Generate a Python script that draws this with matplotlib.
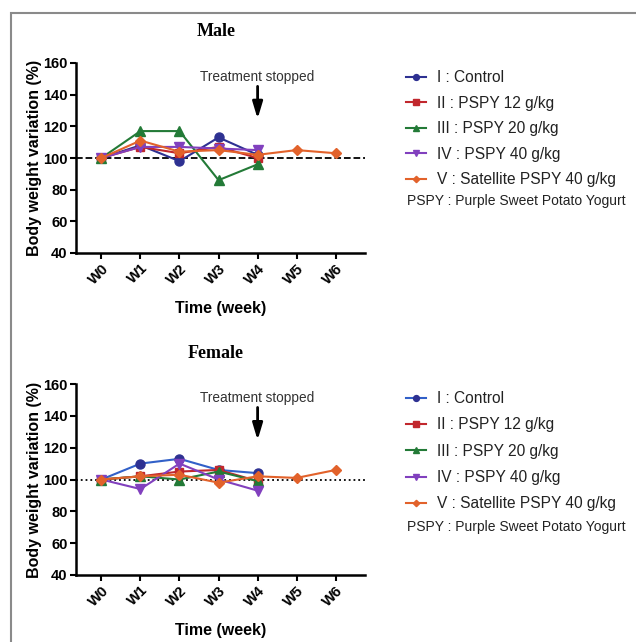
import matplotlib.pyplot as plt
from matplotlib.patches import Rectangle

weeks = ['W0', 'W1', 'W2', 'W3', 'W4', 'W5', 'W6']
groups = ['I : Control', 'II : PSPY 12 g/kg', 'III : PSPY 20 g/kg',
          'IV : PSPY 40 g/kg', 'V : Satellite PSPY 40 g/kg']

male_control = [100, 108, 98, 113, 102]
male_pspy12 = [100, 107, 103, 107, 100]
male_pspy20 = [100, 117, 117, 86, 96]
male_pspy40 = [100, 107, 107, 106, 105]
male_satellite = [100, 111, 104, 105, 102, 105, 103]

female_control = [100, 110, 113, 106, 104]
female_pspy12 = [100, 102, 105, 106, 99]
female_pspy20 = [100, 102, 100, 105, 99]
female_pspy40 = [100, 94, 110, 100, 93]
female_satellite = [100, 102, 103, 98, 102, 101, 106]

colors = ['#2E3192', '#C1272D', '#237A37', '#8140BE', '#E2622B']
female_line_colors = ['#3160C8', '#C1272D', '#237A37', '#8140BE', '#E2622B']
markers = ['o', 's', '^', 'v', 'D']
msizes = [6.5, 6, 6.5, 6.5, 5]

plt.rcParams['font.family'] = ['Liberation Sans', 'DejaVu Sans']

fig = plt.figure(figsize=(6.36, 6.42), dpi=100)

# grey frame around the figure (left and top edges visible)
fig.patches.append(Rectangle((11 / 636, -0.05), 1.1, 1 - 13 / 642 + 0.05,
                             transform=fig.transFigure, fill=False,
                             edgecolor='#8a8a8a', linewidth=1.5))


def draw_panel(ax, series, line_colors, title, title_y, ref_style, legend_y, note_y, spacing):
    for i, vals in enumerate(series):
        ax.plot(range(len(vals)), vals, color=line_colors[i], marker=markers[i],
                markersize=msizes[i], markerfacecolor=colors[i],
                markeredgecolor=colors[i], linewidth=1.5, label=groups[i],
                zorder=3 + i)
    ax.axhline(100, color='black', linestyle=ref_style, linewidth=1.3, zorder=2)
    ax.set_xlim(-0.65, 6.75)
    ax.set_ylim(40, 160)
    ax.set_yticks(range(40, 161, 20))
    ax.set_xticks(range(len(weeks)))
    ax.set_xticklabels(weeks, rotation=45, ha='right', rotation_mode='anchor')
    for lab in ax.get_xticklabels() + ax.get_yticklabels():
        lab.set_fontweight('bold')
        lab.set_fontsize(10.5)
    ax.spines['top'].set_visible(False)
    ax.spines['right'].set_visible(False)
    ax.spines['left'].set_linewidth(1.8)
    ax.spines['bottom'].set_linewidth(1.8)
    ax.tick_params(width=1.5, length=4, pad=2)
    ax.set_xlabel('Time (week)', fontsize=11.5, fontweight='bold', labelpad=10)
    ax.set_ylabel('Body weight variation (%)', fontsize=11.5, fontweight='bold', labelpad=1)
    fig.text(216 / 636, title_y, title, fontsize=13, fontweight='bold',
             family='Liberation Serif', ha='center', va='center')
    ax.annotate('', xy=(4, 123), xytext=(4, 147),
                arrowprops=dict(arrowstyle='-|>,head_width=0.3,head_length=1.0',
                                color='black', linewidth=2))
    ax.text(4, 151, 'Treatment stopped', ha='center', va='center',
            fontsize=9.8, color='#333333')
    handles, labels = ax.get_legend_handles_labels()
    leg = fig.legend(handles, labels, loc='upper left',
                     bbox_to_anchor=(392 / 636, legend_y), frameon=False,
                     fontsize=11.2, handlelength=1.3, handletextpad=0.7,
                     labelspacing=spacing, markerscale=0.65)
    for t in leg.get_texts():
        t.set_color('#222222')
    fig.text(407 / 636, note_y, 'PSPY : Purple Sweet Potato Yogurt',
             fontsize=10, color='#222222', va='center')


ax1 = fig.add_axes([76 / 636, 1 - 253 / 642, 289 / 636, 190 / 642])
draw_panel(ax1, [male_control, male_pspy12, male_pspy20, male_pspy40, male_satellite],
           colors, 'Male', 1 - 32 / 642, '--', 1 - 56 / 642, 1 - 201 / 642, 0.68)

ax2 = fig.add_axes([76 / 636, 1 - 575 / 642, 289 / 636, 191 / 642])
draw_panel(ax2, [female_control, female_pspy12, female_pspy20, female_pspy40, female_satellite],
           female_line_colors, 'Female', 1 - 353 / 642, ':', 1 - 377 / 642, 1 - 527 / 642, 0.73)

fig.savefig('out.png', dpi=100)
